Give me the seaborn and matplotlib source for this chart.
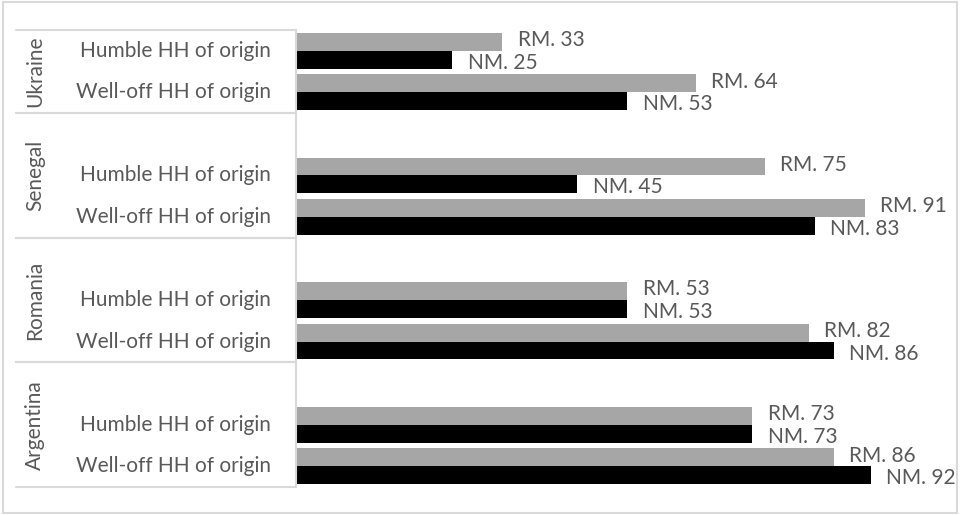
import numpy as np
import pandas as pd
import matplotlib
matplotlib.use("Agg")
import matplotlib.pyplot as plt
import seaborn as sns
from matplotlib.patches import Rectangle

countries = ["Ukraine", "Senegal", "Romania", "Argentina"]
categories = ["Humble HH of origin", "Well-off HH of origin"]
rm_values = [33, 64, 75, 91, 53, 82, 73, 86]
nm_values = [25, 53, 45, 83, 53, 86, 73, 92]
series = ["RM", "NM"]
colors = {"RM": "#A6A6A6", "NM": "#000000"}

sns.set_theme(style="white")
plt.rcParams["font.family"] = ["Lato", "DejaVu Sans"]

rows = []
order = []
groups = []
for i, c in enumerate(countries):
    start = len(order)
    if i > 0:
        order.append(f"{c}|")
    for j, cat in enumerate(categories):
        key = f"{c}|{cat}"
        order.append(key)
        rows.append(dict(slot=key, series="RM", value=rm_values[2 * i + j]))
        rows.append(dict(slot=key, series="NM", value=nm_values[2 * i + j]))
    groups.append((c, start - 0.5, len(order) - 0.5))
df = pd.DataFrame(rows)

W, H = 961, 515
fig = plt.figure(figsize=(W / 100, H / 100), dpi=100)
ax = fig.add_axes([296 / W, (H - 487) / H, 625 / W, 457 / H])
sns.barplot(data=df, y="slot", x="value", hue="series", order=order,
            hue_order=series, palette=colors, width=0.86, orient="h",
            errorbar=None, legend=False, linewidth=0, ax=ax)
ax.set_xlim(0, 100)
ax.set_ylim(len(order) - 0.5, -0.5)
ax.set_xticks([])
ax.set_yticks([])
ax.set_xlabel("")
ax.set_ylabel("")
for s in ["top", "right", "bottom"]:
    ax.spines[s].set_visible(False)
ax.spines["left"].set_color("#D9D9D9")
ax.spines["left"].set_linewidth(1.5)

txt_color = "#595959"
fs = 15
dy = {"RM": 1.2, "NM": -2.2}

for s, cont in zip(series, ax.containers):
    for bar in cont:
        w = bar.get_width()
        if np.isnan(w):
            continue
        ax.annotate(f"{s}. {w:.0f}", (w, bar.get_y() + bar.get_height() / 2),
                    xytext=(11, dy[s]), textcoords="offset points",
                    va="center", ha="left", fontsize=fs, color=txt_color,
                    annotation_clip=False)

ytr = ax.get_yaxis_transform()
for idx, key in enumerate(order):
    c, cat = key.split("|")
    if cat:
        ax.text((271 - 296) / 625, idx, cat, transform=ytr, ha="right",
                va="center", fontsize=fs, color=txt_color)

x0 = (16 - 296) / 625
for c, lo, hi in groups:
    ax.text((35 - 296) / 625, (lo + hi) / 2, c, transform=ytr, rotation=90,
            ha="center", va="center", fontsize=fs, color=txt_color)
    for b in (lo, hi):
        ax.plot([x0, 0], [b, b], transform=ytr, color="#D9D9D9", lw=1.5,
                clip_on=False)

fig.add_artist(Rectangle((3 / W, 2 / H), (957 - 3) / W, (513 - 2) / H,
                         transform=fig.transFigure, fill=False,
                         edgecolor="#D9D9D9", lw=1.5))

fig.savefig("out.png", dpi=100)
